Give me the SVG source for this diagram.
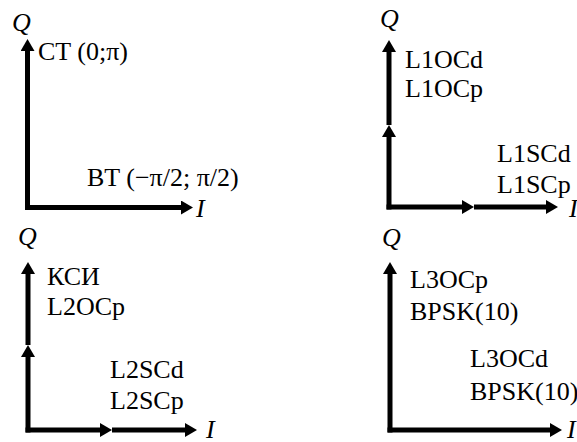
<svg xmlns="http://www.w3.org/2000/svg" width="577" height="442" viewBox="0 0 577 442">
<defs>
<marker id="ah" viewBox="0 0 12 14" refX="0" refY="7" markerWidth="12" markerHeight="14" markerUnits="userSpaceOnUse" orient="auto">
<path d="M0,0 L12,7 L0,14 z" fill="#000"/>
</marker>
</defs>
<rect width="577" height="442" fill="#fff"/>
<g id="connectors" stroke="#000" stroke-width="5" fill="none" marker-end="url(#ah)">
<line x1="27.5" y1="210" x2="27.5" y2="51"/>
<line x1="25" y1="207.5" x2="181" y2="207.5"/>
<line x1="389" y1="209.5" x2="389" y2="137"/>
<line x1="389" y1="125" x2="389" y2="52"/>
<line x1="386.5" y1="207" x2="462" y2="207"/>
<line x1="474" y1="207" x2="546" y2="207"/>
<line x1="28" y1="432.5" x2="28" y2="357"/>
<line x1="28" y1="345" x2="28" y2="274"/>
<line x1="25.5" y1="430" x2="100" y2="430"/>
<line x1="112" y1="430" x2="185" y2="430"/>
<line x1="390" y1="432.5" x2="390" y2="274"/>
<line x1="387.5" y1="430" x2="550" y2="430"/>
</g>
<text font-family="Liberation Serif" font-size="26" font-style="italic" x="12" y="31">Q</text>
<text font-family="Liberation Serif" font-size="26" x="38" y="60">CT (0;π)</text>
<text font-family="Liberation Serif" font-size="26" x="87" y="186">BT (−π/2; π/2)</text>
<text font-family="Liberation Serif" font-size="26" font-style="italic" x="196" y="217">I</text>
<text font-family="Liberation Serif" font-size="26" font-style="italic" x="380" y="27">Q</text>
<text font-family="Liberation Serif" font-size="26" x="405" y="68">L1OCd</text>
<text font-family="Liberation Serif" font-size="26" x="405" y="97">L1OCp</text>
<text font-family="Liberation Serif" font-size="26" x="497" y="162">L1SCd</text>
<text font-family="Liberation Serif" font-size="26" x="497" y="193">L1SCp</text>
<text font-family="Liberation Serif" font-size="26" font-style="italic" x="569" y="217">I</text>
<text font-family="Liberation Serif" font-size="26" font-style="italic" x="18" y="245">Q</text>
<text font-family="Liberation Serif" font-size="26" x="47" y="285">КСИ</text>
<text font-family="Liberation Serif" font-size="26" x="47" y="315">L2OCp</text>
<text font-family="Liberation Serif" font-size="26" x="110" y="378">L2SCd</text>
<text font-family="Liberation Serif" font-size="26" x="110" y="409">L2SCp</text>
<text font-family="Liberation Serif" font-size="26" font-style="italic" x="206" y="438">I</text>
<text font-family="Liberation Serif" font-size="26" font-style="italic" x="382" y="246">Q</text>
<text font-family="Liberation Serif" font-size="26" x="410" y="288">L3OCp</text>
<text font-family="Liberation Serif" font-size="26" x="410" y="320">BPSK(10)</text>
<text font-family="Liberation Serif" font-size="26" x="470" y="367">L3OCd</text>
<text font-family="Liberation Serif" font-size="26" x="470" y="400">BPSK(10)</text>
<text font-family="Liberation Serif" font-size="26" font-style="italic" x="567" y="438">I</text>
</svg>
